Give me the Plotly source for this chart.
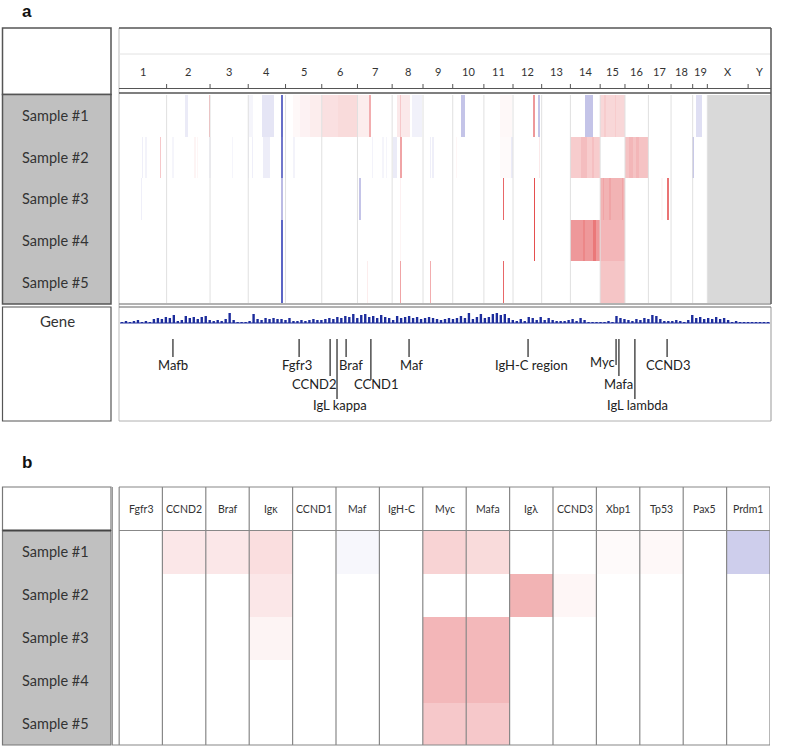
import plotly.graph_objects as go
import numpy as np

W, H = 787, 748

# ---------------- DATA ----------------
chrom_names = [str(i) for i in range(1, 20)] + ["X", "Y"]
chrom_len_mb = [195.47, 182.11, 160.04, 156.51, 151.83, 149.74, 145.44, 129.40, 124.60,
                130.69, 122.08, 120.13, 120.42, 124.90, 104.04, 98.21, 94.99, 90.70,
                61.43, 171.03, 91.74]
samples = ["Sample #1", "Sample #2", "Sample #3", "Sample #4", "Sample #5"]

# copy-number segments, genome-wide cumulative position (Mb); value <0 loss, >0 gain
seg_sample = [1, 1, 1, 1, 1, 1, 1, 1, 1, 1, 1, 1, 1, 1, 1, 1, 1, 1, 1, 1, 1, 1, 1, 1,
              2, 2, 2, 2, 2, 2, 2, 2, 2, 2, 2, 2, 2, 2, 2, 2, 2, 2, 2, 2, 2, 2, 2, 2, 2, 2, 2, 2, 2,
              3, 3, 3, 3, 3, 3, 3, 3, 3, 3, 3, 3,
              4, 4, 4, 4, 4, 4, 4,
              5, 5, 5, 5, 5, 5,
              2, 2]
seg_start = [273, 373, 537, 595, 674, 725, 755, 797, 847, 914, 998, 1046, 1161, 1174, 1224, 1430,
             1593, 1733, 1754, 1950, 2013, 2030, 2075, 2415,
             92, 105, 166, 220, 312, 324, 375, 468, 537, 553, 598, 674, 725, 1055, 1100, 1116,
             1145, 1173, 1298, 1310, 1410, 1593, 1641, 1755, 1888, 1935, 1980, 2117, 2400,
             86, 676, 1004, 1175, 1606, 1735, 2013, 2025, 2050, 2105, 2270, 2294,
             674, 1175, 1735, 1888, 1940, 1985, 2013,
             676, 1034, 1174, 1300, 1606, 2013,
             2135, 2165]
seg_end = [285, 379, 558, 646, 684, 755, 797, 847, 914, 998, 1046, 1052, 1216, 1180, 1266, 1447,
           1644, 1739, 1760, 1983, 2117, 2036, 2080, 2440,
           97, 113, 171, 225, 317, 329, 380, 473, 542, 558, 630, 684, 735, 1060, 1105, 1121,
           1161, 1181, 1303, 1315, 1415, 1644, 1646, 1760, 2013, 1960, 1988, 2215, 2406,
           91, 684, 1012, 1180, 1612, 1742, 2117, 2030, 2058, 2110, 2275, 2300,
           684, 1180, 1742, 2013, 1950, 1995, 2117,
           684, 1039, 1180, 1306, 1612, 2117,
           2150, 2175]
seg_value = [-0.10, 0.45, -0.05, -0.13, -0.75, 0.04, 0.07, 0.10, 0.17, 0.20, 0.10, 0.45, 0.12, 0.30,
             -0.07, -0.30, 0.04, 0.55, -0.30, -0.30, 0.22, 0.28, 0.28, -0.16,
             -0.08, -0.06, 0.30, -0.05, 0.06, 0.05, -0.06, -0.05, -0.08, -0.08, -0.09, -0.70, -0.06,
             -0.06, -0.05, -0.05, -0.10, 0.50, -0.08, -0.08, 0.05, 0.03, -0.10, 0.12, 0.28, 0.36,
             0.35, 0.33, -0.30,
             -0.08, -0.35, -0.30, 0.08, 0.75, 0.85, 0.42, 0.50, 0.50, 0.50, 0.05, 0.70,
             -0.80, 0.06, 0.85, 0.55, 0.62, 0.68, 0.40,
             -0.80, 0.10, 0.50, 0.45, 0.75, 0.32,
             0.40, 0.40]

# gene density track (bins along the genome)
cov_values = [1, 2, 1, 2, 3, 1, 2, 1, 4, 5, 4, 6, 5, 8, 2, 3, 7, 5, 6, 4, 6, 7, 3, 2, 3, 2, 4, 10,
              3, 1, 1, 1, 2, 9, 4, 3, 5, 4, 5, 4, 4, 3, 5, 2, 2, 3, 2, 3, 4, 3, 3, 4, 5, 4, 6, 5,
              7, 6, 9, 5, 8, 9, 6, 7, 5, 8, 6, 5, 3, 7, 5, 6, 7, 5, 6, 4, 5, 6, 5, 4, 3, 4, 5, 4,
              5, 7, 5, 10, 4, 6, 9, 5, 6, 9, 10, 8, 9, 5, 3, 2, 4, 2, 6, 5, 3, 6, 3, 5, 3, 2, 2, 2,
              3, 4, 2, 5, 3, 1, 1, 1, 1, 1, 2, 1, 7, 5, 4, 3, 2, 4, 3, 5, 4, 8, 7, 4, 2, 2, 2, 3,
              2, 1, 3, 8, 5, 6, 4, 5, 4, 6, 4, 5, 3, 1, 2, 1, 1, 0.5, 0.5, 0.5, 0.5, 0.5, 0.5]

gene_names = ["Mafb", "Fgfr3", "CCND2", "IgL kappa", "Braf", "CCND1", "Maf", "IgH-C region",
              "Myc", "Mafa", "IgL lambda", "CCND3"]
gene_pos_mb = [222, 751, 881, 910, 948, 1052, 1212, 1711, 2080, 2092, 2159, 2294]
gene_tier = [1, 1, 2, 3, 1, 2, 1, 1, 1, 2, 3, 1]

# panel b
genes_b = ["Fgfr3", "CCND2", "Braf", "Igκ", "CCND1", "Maf", "IgH-C", "Myc", "Mafa", "Igλ",
           "CCND3", "Xbp1", "Tp53", "Pax5", "Prdm1"]
z_b = [
    [0, 0.13, 0.13, 0.18, 0, -0.04, 0, 0.24, 0.20, 0, 0, 0.03, 0.04, 0, -0.25],
    [0, 0, 0, 0.13, 0, 0, 0, 0, 0, 0.42, 0.05, 0, 0, 0, 0],
    [0, 0, 0, 0.06, 0, 0, 0, 0.40, 0.39, 0, 0, 0, 0, 0, 0],
    [0, 0, 0, 0, 0, 0, 0, 0.39, 0.39, 0, 0, 0, 0, 0, 0],
    [0, 0, 0, 0, 0, 0, 0, 0.30, 0.30, 0, 0, 0, 0, 0, 0],
]

# ---------------- STYLE ----------------
FONT = "Lato"
TXT = "#333333"
CS = [[0, "#3040b8"], [0.25, "#9c9cd8"], [0.5, "#ffffff"], [0.75, "#f0a4a6"], [1, "#e02a2a"]]


def PX(px):
    return px / W


def PY(py):
    return 1 - py / H


chrom_start = np.concatenate([[0], np.cumsum(chrom_len_mb)[:-1]])
chrom_end = np.cumsum(chrom_len_mb)
genome_len = float(chrom_end[-1])
auto_end = float(chrom_end[18])

fig = go.Figure()

# ---- panel a heatmap ----
edges = sorted(set([0.0, auto_end] + [float(v) for v in seg_start + seg_end]))
edges = [e for e in edges if 0 <= e <= auto_end]
mids = [(edges[i] + edges[i + 1]) / 2 for i in range(len(edges) - 1)]
za = np.zeros((5, len(mids)))
for s, a, b, v in zip(seg_sample, seg_start, seg_end, seg_value):
    for j, m in enumerate(mids):
        if a <= m < b:
            za[s - 1, j] = v
fig.add_trace(go.Heatmap(x=edges, y=[0, 1, 2, 3, 4, 5], z=za, colorscale=CS, zmin=-1, zmax=1,
                         showscale=False, hoverinfo="skip", xaxis="x", yaxis="y"))

# ---- gene density ----
bin_mb = genome_len / len(cov_values)
cov_x = [bin_mb * (i + 0.5) for i in range(len(cov_values))]
fig.add_trace(go.Bar(x=cov_x, y=cov_values, base=98, width=bin_mb * 0.6,
                     marker=dict(color="#1c2c9c", line=dict(width=0)),
                     xaxis="x2", yaxis="y2", hoverinfo="skip"))

# ---- panel b heatmap ----
fig.add_trace(go.Heatmap(x=genes_b, y=samples, z=z_b, colorscale=CS, zmin=-1, zmax=1,
                         showscale=False, hoverinfo="skip", xaxis="x3", yaxis="y3"))

shapes = []
ann = []


def rect(x0, y0, x1, y1, fill="rgba(0,0,0,0)", color="#555", w=1.5, layer="above"):
    shapes.append(dict(type="rect", xref="paper", yref="paper", x0=PX(x0), x1=PX(x1),
                       y0=PY(y1), y1=PY(y0), fillcolor=fill, line=dict(color=color, width=w),
                       layer=layer))


def hline(y, x0, x1, color="#555", w=1.2):
    shapes.append(dict(type="line", xref="paper", yref="paper", x0=PX(x0), x1=PX(x1),
                       y0=PY(y), y1=PY(y), line=dict(color=color, width=w)))


def vline(x, y0, y1, color="#555", w=1.2):
    shapes.append(dict(type="line", xref="paper", yref="paper", x0=PX(x), x1=PX(x),
                       y0=PY(y0), y1=PY(y1), line=dict(color=color, width=w)))


def text(x, y, s, size, xref="paper", yref="paper", color=TXT, family=FONT, xanchor="center",
         xshift=0, yanchor="middle"):
    ann.append(dict(x=x, y=y, xref=xref, yref=yref, text=s, showarrow=False, xanchor=xanchor,
                    yanchor=yanchor, xshift=xshift,
                    font=dict(family=family, size=size, color=color)))


# ---- panel a frame ----
rect(2.5, 28, 111, 94.5, fill="white")
rect(2.5, 94.5, 111, 304, fill="#c0c0c0")
rect(2.5, 307, 111, 421, fill="white", w=1.2)
vline(119, 28, 421, color="#c8c8c8", w=1.2)
hline(28, 119, 771, w=1.5)
hline(54, 119, 771, color="#e2e2e2", w=1)
hline(88.5, 119, 771, color="#555", w=1.2)
hline(93, 119, 771, color="#555", w=1.5)
vline(771, 28, 304, w=1.5)
vline(771, 307, 421, color="#999", w=1)
hline(304, 119, 771, color="#666", w=1.2)
hline(307, 119, 771, color="#666", w=1.2)
hline(421, 119, 771, color="#b0b0b0", w=1)

# grey region for X / Y (no data)
shapes.append(dict(type="rect", xref="x", yref="y", x0=auto_end, x1=genome_len, y0=0, y1=5,
                   fillcolor="#d9d9d9", line=dict(width=0), layer="below"))
# chromosome boundaries in heatmap + ruler ticks
for i in range(19):
    e = float(chrom_end[i])
    shapes.append(dict(type="line", xref="x", yref="y", x0=e, x1=e, y0=0, y1=5,
                       line=dict(color="#e0e0e0", width=1), layer="above"))
for i in range(20):
    e = float(chrom_end[i])
    shapes.append(dict(type="line", xref="x", yref="paper", x0=e, x1=e, y0=PY(88), y1=PY(84),
                       line=dict(color="#555", width=1)))
for nm, s0, ln in zip(chrom_names, chrom_start, chrom_len_mb):
    text(float(s0 + ln / 2), PY(71), nm, 11, xref="x")

# sample labels a
for i, s in enumerate(samples):
    text(PX(55), i + 0.5, s, 14.5, yref="y")
text(PX(57), PY(321), "Gene", 15)

# baseline of gene density
shapes.append(dict(type="line", xref="x2", yref="y2", x0=0, x1=genome_len, y0=98, y1=98,
                   line=dict(color="#1c2c9c", width=1)))

# gene markers
tier_bottom = {1: 64, 2: 45, 3: 22}
tier_label = {1: 56, 2: 37, 3: 16}
label_shift = {"CCND2": -16, "IgL kappa": 3, "Braf": 5, "CCND1": 6, "Maf": 2, "IgH-C region": 3,
               "Mafa": 0, "IgL lambda": 3, "CCND3": 1, "Fgfr3": -2}
line_bottom = {"CCND1": 41, "Myc": 56}
for g, p, t in zip(gene_names, gene_pos_mb, gene_tier):
    yb = line_bottom.get(g, tier_bottom[t])
    shapes.append(dict(type="line", xref="x2", yref="y2", x0=p, x1=p, y0=82, y1=yb,
                       line=dict(color="#222", width=1.2)))
    if g == "Myc":
        text(p, 59, g, 13, xref="x2", yref="y2", color="#222", xanchor="right", xshift=1)
    else:
        text(p, tier_label[t], g, 13, xref="x2", yref="y2", color="#222",
             xshift=label_shift.get(g, 0))

# ---- panel b frame ----
rect(2.5, 487, 111, 530.5, fill="white", color="#777", w=1.2)
rect(2.5, 530.5, 111, 745, fill="#c0c0c0", color="#777", w=1.2)
hline(530.5, 2.5, 111, color="#444", w=2)
vline(112.5, 487, 745, color="#999", w=1)
vline(119, 487, 745, color="#999", w=1)
hline(487, 119, 770, color="#888", w=1.2)
hline(530.5, 119, 770, color="#888", w=1.2)
hline(745, 112, 770, color="#888", w=1.2)
for i in range(len(genes_b) + 1):
    shapes.append(dict(type="line", xref="x3", yref="paper", x0=i - 0.5, x1=i - 0.5,
                       y0=PY(745), y1=PY(487), line=dict(color="#888", width=1.2)))
for g in genes_b:
    text(g, PY(509), g, 10.5, xref="x3")
for s in samples:
    text(PX(55), s, s, 14.5, yref="y3")

# panel letters
text(PX(20), PY(0), "<b>a</b>", 17, color="#111", family="Liberation Sans", xanchor="left",
     yanchor="top")
text(PX(20), PY(462), "<b>b</b>", 17, color="#111", family="Liberation Sans", xanchor="left")

ax_off = dict(visible=False, showgrid=False, zeroline=False, fixedrange=True)
fig.update_layout(
    width=W, height=H, margin=dict(l=0, r=0, t=0, b=0),
    paper_bgcolor="white", plot_bgcolor="rgba(0,0,0,0)", showlegend=False,
    xaxis=dict(domain=[PX(120), PX(770)], range=[0, genome_len], anchor="y", **ax_off),
    yaxis=dict(domain=[PY(303), PY(95)], range=[5, 0], anchor="x", **ax_off),
    xaxis2=dict(domain=[PX(120), PX(770)], range=[0, genome_len], anchor="y2", **ax_off),
    yaxis2=dict(domain=[PY(421), PY(306)], range=[0, 115], anchor="x2", **ax_off),
    xaxis3=dict(domain=[PX(119), PX(770)], range=[-0.5, len(genes_b) - 0.5], anchor="y3",
                type="category", **ax_off),
    yaxis3=dict(domain=[PY(745), PY(530.5)], range=[4.5, -0.5], anchor="x3", type="category",
                **ax_off),
    shapes=shapes, annotations=ann,
)

fig.write_html("out.html", config={"displayModeBar": False},
               post_script="document.body.style.margin='0';"
                           "document.body.style.overflow='hidden';")
